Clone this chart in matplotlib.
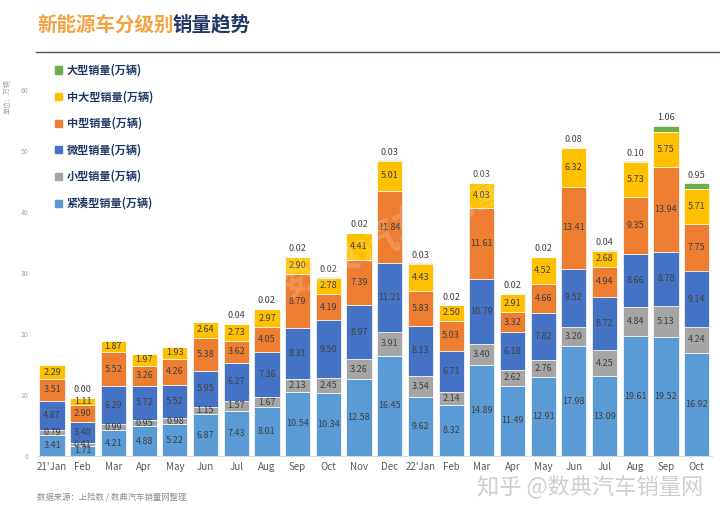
import numpy as np
import matplotlib.pyplot as plt
from matplotlib.patches import Rectangle

plt.rcParams['font.family'] = ['Noto Sans CJK SC', 'DejaVu Sans']

months = ["21'Jan", "Feb", "Mar", "Apr", "May", "Jun", "Jul", "Aug", "Sep", "Oct", "Nov", "Dec",
          "22'Jan", "Feb", "Mar", "Apr", "May", "Jun", "Jul", "Aug", "Sep", "Oct"]

compact = [3.41, 1.71, 4.21, 4.88, 5.22, 6.87, 7.43, 8.01, 10.54, 10.34, 12.58, 16.45,
           9.62, 8.32, 14.89, 11.49, 12.91, 17.98, 13.09, 19.61, 19.52, 16.92]
small = [0.79, 0.41, 0.99, 0.95, 0.98, 1.15, 1.57, 1.67, 2.13, 2.45, 3.26, 3.91,
         3.54, 2.14, 3.40, 2.62, 2.76, 3.20, 4.25, 4.84, 5.13, 4.24]
mini = [4.87, 3.40, 6.29, 5.72, 5.52, 5.95, 6.27, 7.36, 8.31, 9.50, 8.97, 11.21,
        8.13, 6.71, 10.79, 6.18, 7.82, 9.52, 8.72, 8.66, 8.78, 9.14]
mid = [3.51, 2.90, 5.52, 3.26, 4.26, 5.38, 3.62, 4.05, 8.79, 4.19, 7.39, 11.84,
       5.83, 5.03, 11.61, 3.32, 4.66, 13.41, 4.94, 9.35, 13.94, 7.75]
mid_large = [2.29, 1.11, 1.87, 1.97, 1.93, 2.64, 2.73, 2.97, 2.90, 2.78, 4.41, 5.01,
             4.43, 2.50, 4.03, 2.91, 4.52, 6.32, 2.68, 5.73, 5.75, 5.71]
large = [None, 0.00, None, None, None, None, 0.04, 0.02, 0.02, 0.02, 0.02, 0.03,
         0.03, 0.02, 0.03, 0.02, 0.02, 0.08, 0.04, 0.10, 1.06, 0.95]

series = [
    ("紧凑型销量(万辆)", compact, "#5B9BD5"),
    ("小型销量(万辆)", small, "#A5A5A5"),
    ("微型销量(万辆)", mini, "#4472C4"),
    ("中型销量(万辆)", mid, "#ED7D31"),
    ("中大型销量(万辆)", mid_large, "#FFC000"),
    ("大型销量(万辆)", large, "#70AD47"),
]

fig = plt.figure(figsize=(7.2, 5.16), dpi=100)
ax = fig.add_axes([36.7 / 720, 60 / 516, (712 - 36.7) / 720, 366 / 516])

x = np.arange(len(months))
bottom = np.zeros(len(months))
txt_col = "#404040"
for i, (name, vals, col) in enumerate(series):
    v = np.array([0 if a is None else a for a in vals], dtype=float)
    ax.bar(x, v, 0.82, bottom=bottom, color=col, edgecolor="white", linewidth=0.5)
    for j in range(len(months)):
        if vals[j] is None:
            continue
        if name.startswith("大型"):
            ax.text(x[j], bottom[j] + v[j] + 0.6, f"{vals[j]:.2f}", ha="center", va="bottom",
                    fontsize=6.5, color=txt_col)
        else:
            ax.text(x[j], bottom[j] + v[j] / 2, f"{vals[j]:.2f}", ha="center", va="center",
                    fontsize=6.5, color=txt_col)
    bottom += v

ax.set_xlim(-0.5, len(months) - 0.5)
ax.set_ylim(0, 60)
ax.set_xticks(x)
ax.set_xticklabels(months, fontsize=7, color="#595959")
ax.set_yticks(range(0, 61, 10))
ax.tick_params(axis="y", labelsize=5, colors="#a6a6a6", length=0, pad=6)
ax.tick_params(axis="x", length=0, pad=4)
for s in ["top", "right", "left"]:
    ax.spines[s].set_visible(False)
ax.spines["bottom"].set_color("#d9d9d9")

# faint watermark over the bars
fig.text(415 / 720, 1 - 225 / 516, "数典汽车销量网", fontsize=30, fontweight="bold",
         color="white", alpha=0.18, rotation=25, va="center", ha="center")

# title and rule
fig.text(37 / 720, 1 - 25 / 516, "新能源车分级别", fontsize=14, fontweight="bold",
         color="#F4A340", va="center", ha="left")
fig.text(37 / 720 + 7 * 19.4 / 720, 1 - 25 / 516, "销量趋势", fontsize=14, fontweight="bold",
         color="#1F3864", va="center", ha="left")
fig.add_artist(plt.Line2D([36 / 720, 1], [1 - 52 / 516] * 2, color="#44546A", linewidth=1))

# legend
for k, (name, vals, col) in enumerate(reversed(series)):
    yy = 1 - (70 + k * 26.6) / 516
    fig.add_artist(Rectangle((55 / 720, yy - 3.5 / 516), 7 / 720, 7 / 516, color=col,
                             transform=fig.transFigure))
    fig.text(67 / 720, yy, name, fontsize=8, fontweight="bold", color="#1F3864",
             va="center", ha="left")

fig.text(8 / 720, 1 - 97 / 516, "单位：万辆", rotation=90, fontsize=5, color="#a6a6a6",
         va="center", ha="center")
fig.text(37 / 720, 1 - 497 / 516, "数据来源：上险数 / 数典汽车销量网整理", fontsize=6,
         color="#8c8c8c", va="center", ha="left")
fig.text(703 / 720, 1 - 487 / 516, "知乎 @数典汽车销量网", fontsize=16, color="#cfcfcf",
         va="center", ha="right")

fig.savefig("out.png", dpi=100)
